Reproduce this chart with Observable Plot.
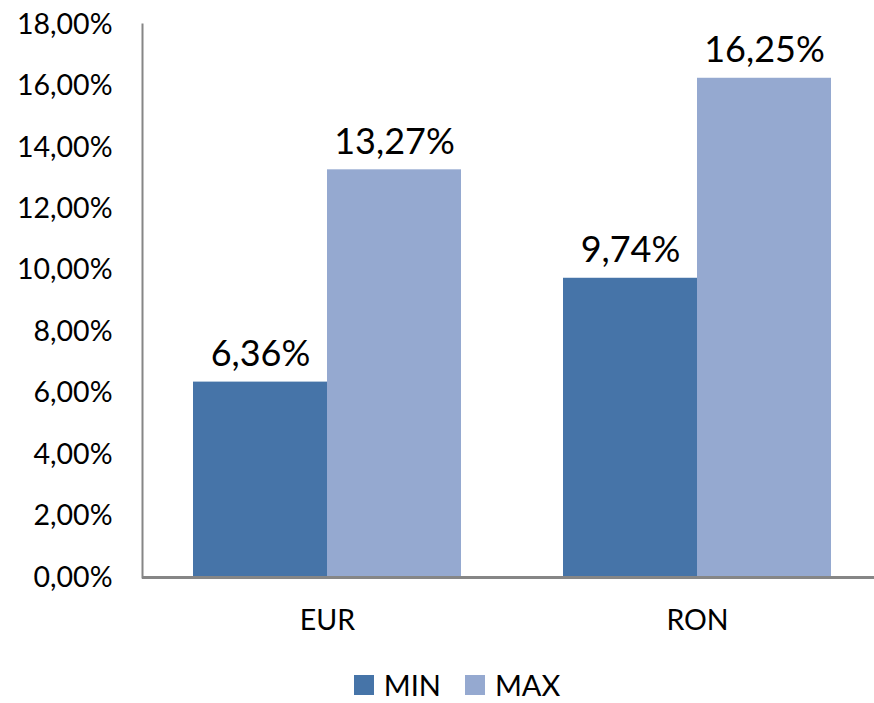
<!DOCTYPE html>
<html>
<head>
<meta charset="utf-8">
<script src="https://cdn.jsdelivr.net/npm/d3@7"></script>
<script src="https://cdn.jsdelivr.net/npm/@observablehq/plot@0.6"></script>
<style>
  html, body { margin: 0; padding: 0; background: #fff; }
  #chart { width: 874px; }
  .legend { display: flex; justify-content: center; gap: 24px; font-family: Lato, sans-serif; font-size: 29px; line-height: 34px; color: #000; height: 36px; align-items: center; margin-left: 40px;}
  .legend span.item { display: flex; align-items: center; gap: 10px; }
  .legend span.sw { width: 20px; height: 20px; display: inline-block; }
</style>
</head>
<body>
<div id="chart"></div>
<script>
const categories = ["EUR", "RON"];
const series = ["MIN", "MAX"];
const minValues = [6.36, 9.74];
const maxValues = [13.27, 16.25];
const yTicks = [0, 2, 4, 6, 8, 10, 12, 14, 16, 18];
const colors = ["#4674a8", "#95a9d0"];

const rows = [];
categories.forEach((c, i) => {
  rows.push({cat: c, series: "MIN", value: minValues[i]});
  rows.push({cat: c, series: "MAX", value: maxValues[i]});
});
const fmt = v => v.toFixed(2).replace(".", ",") + "%";

const plot = Plot.plot({
  width: 874,
  height: 667,
  marginTop: 24,
  marginBottom: 90,
  marginLeft: 142,
  marginRight: -8,
  style: {fontFamily: "Lato, sans-serif", fontSize: "28.5px", color: "#000", background: "#fff"},
  fx: {domain: categories, padding: 0, axis: "bottom", tickSize: 0, tickPadding: 32, label: null},
  x: {domain: series, paddingInner: 0, paddingOuter: 0.375, axis: null},
  y: {domain: [0, 18], ticks: yTicks, tickFormat: fmt, tickSize: 0, tickPadding: 30, label: null, line: true},
  color: {domain: series, range: colors},
  marks: [
    Plot.barY(rows, {fx: "cat", x: "series", y: "value", fill: "series"}),
    Plot.text(rows, {fx: "cat", x: "series", y: "value", text: d => fmt(d.value), lineAnchor: "bottom", dy: -16, fontSize: 36, fill: "#000"}),
    Plot.ruleY([0], {stroke: "#868686", strokeWidth: 3})
  ]
});
// style the vertical y-axis line drawn by the axis "line" option
plot.querySelectorAll("line").forEach(el => {
  const x1 = el.getAttribute("x1"), x2 = el.getAttribute("x2");
  const y1 = el.getAttribute("y1"), y2 = el.getAttribute("y2");
  if (x1 !== null && x1 === x2 && y1 !== y2) {
    el.setAttribute("stroke", "#868686");
    el.setAttribute("stroke-width", "2");
  }
});
plot.querySelectorAll("path").forEach(el => {
  const d = el.getAttribute("d") || "";
  if (/^M[\d.]+,[\d.]+V[\d.]+$/.test(d)) {
    el.setAttribute("stroke", "#868686");
    el.setAttribute("stroke-width", "2");
  }
});
document.getElementById("chart").appendChild(plot);

const legend = document.createElement("div");
legend.className = "legend";
series.forEach((s, i) => {
  const item = document.createElement("span");
  item.className = "item";
  const sw = document.createElement("span");
  sw.className = "sw";
  sw.style.background = colors[i];
  item.appendChild(sw);
  item.appendChild(document.createTextNode(s));
  legend.appendChild(item);
});
document.getElementById("chart").appendChild(legend);
</script>
</body>
</html>
